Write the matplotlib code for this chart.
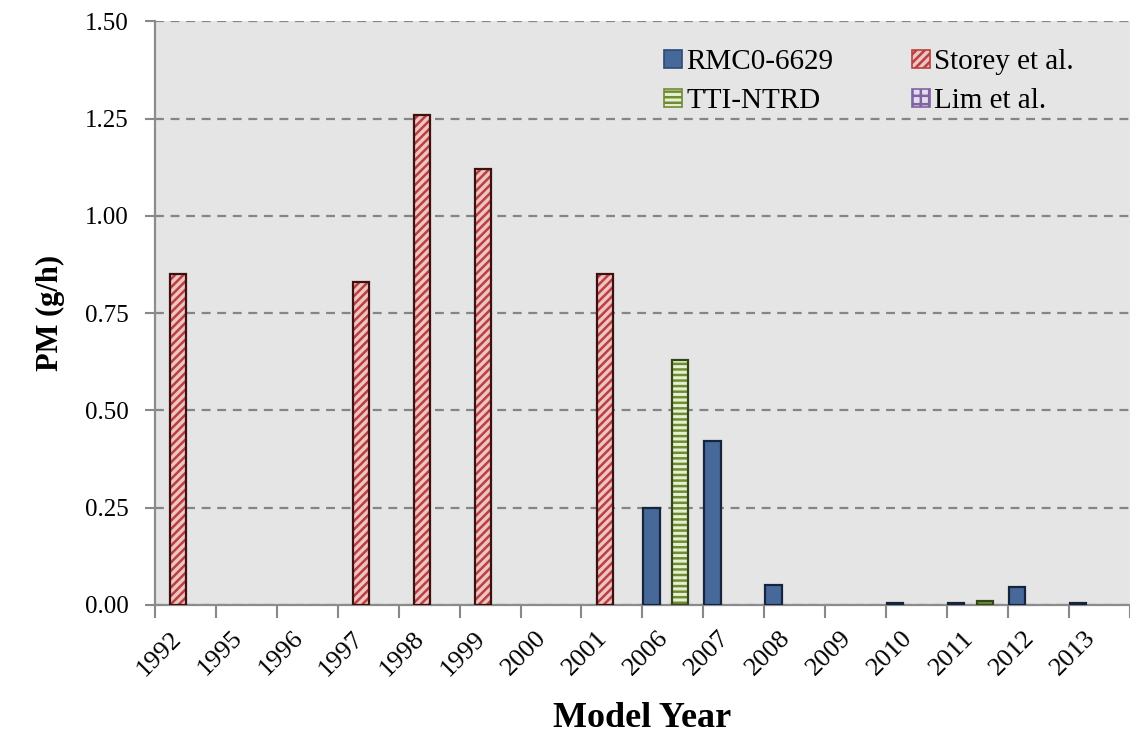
import numpy as np
import matplotlib
matplotlib.use("Agg")
import matplotlib.pyplot as plt
from matplotlib.patches import Patch

plt.rcParams['font.family'] = ['Liberation Serif', 'DejaVu Serif']
plt.rcParams['hatch.linewidth'] = 1.8

# data
years = ['1992', '1995', '1996', '1997', '1998', '1999', '2000', '2001',
         '2006', '2007', '2008', '2009', '2010', '2011', '2012', '2013']
rmc = [0, 0, 0, 0, 0, 0, 0, 0, 0.25, 0.42, 0.05, 0, 0.005, 0.005, 0.047, 0.005]
storey = [0.85, 0, 0, 0.83, 1.26, 1.12, 0, 0.85, 0, 0, 0, 0, 0, 0, 0, 0]
tti = [0, 0, 0, 0, 0, 0, 0, 0, 0.63, 0, 0, 0, 0, 0.009, 0, 0]
lim = [0] * 16
series_names = ['RMC0-6629', 'Storey et al.', 'TTI-NTRD', 'Lim et al.']

# styles: face, hatch colour, hatch, outline
styles = [
    ('#46699a', '#2c4a78', '', '#16253d'),
    ('#efc4c4', '#b8413e', '////', '#3e1010'),
    ('#e6f0d0', '#6f8c33', '---', '#33461a'),
    ('#e4dcef', '#8064a2', '++', '#3f2f55'),
]

fig = plt.figure(figsize=(11.3, 7.34), dpi=100)
ax = fig.add_axes([0.137, 0.176, 0.863, 0.795])
ax.set_facecolor('#e5e5e5')

x = np.arange(len(years))
step = 0.235
width = 0.27
for i, vals in enumerate([rmc, storey, tti, lim]):
    face, hcol, hatch, edge = styles[i]
    vals = np.array(vals, dtype=float)
    keep = vals > 0
    pos = (x + (i - 1.5) * step)[keep]
    ax.bar(pos, vals[keep], width, color=face, edgecolor=hcol, hatch=hatch,
           linewidth=0, zorder=3)
    ax.bar(pos, vals[keep], width, fill=False, edgecolor=edge, linewidth=1.6,
           zorder=4)

ax.set_xlim(-0.5, len(years) - 0.5)
ax.set_ylim(0, 1.5)
ax.set_yticks(np.arange(0, 1.51, 0.25))
ax.set_yticklabels(['%.2f' % v for v in np.arange(0, 1.51, 0.25)])
ax.yaxis.grid(True, color='#858585', linestyle=(0, (4, 3)), linewidth=1.6,
              zorder=1)

ax.set_xticks(np.arange(-0.5, len(years), 1.0))
ax.set_xticklabels([])
ax.set_xticks(x, minor=True)
ax.set_xticklabels(years, minor=True, rotation=45, ha='right',
                   rotation_mode='default')
ax.tick_params(axis='x', which='major', length=9, width=1.5, color='#888888',
               direction='out')
ax.tick_params(axis='x', which='minor', length=0, pad=16, labelsize=19)
ax.tick_params(axis='y', length=7, width=1.5, color='#888888', pad=12,
               labelsize=18)

for s in ['top', 'right']:
    ax.spines[s].set_visible(False)
for s in ['left', 'bottom']:
    ax.spines[s].set_color('#8c8c8c')
    ax.spines[s].set_linewidth(1.6)

ax.set_ylabel('PM (g/h)', fontsize=22, fontweight='bold', labelpad=14)
ax.set_xlabel('Model Year', fontsize=26, fontweight='bold', labelpad=16)

# legend fills column by column, so order handles to get the reference rows
handles = []
for i in [0, 2, 1, 3]:
    face, hcol, hatch, edge = styles[i]
    handles.append(Patch(facecolor=face, edgecolor=hcol, hatch=hatch,
                         linewidth=1.2, label=series_names[i]))
leg = ax.legend(handles=handles, ncol=2, loc='upper right',
                bbox_to_anchor=(0.969, 0.997), frameon=False, fontsize=21,
                handlelength=0.6, handleheight=0.6, handletextpad=0.15,
                columnspacing=2.7, labelspacing=0.45)

fig.savefig('out.png', dpi=100)
